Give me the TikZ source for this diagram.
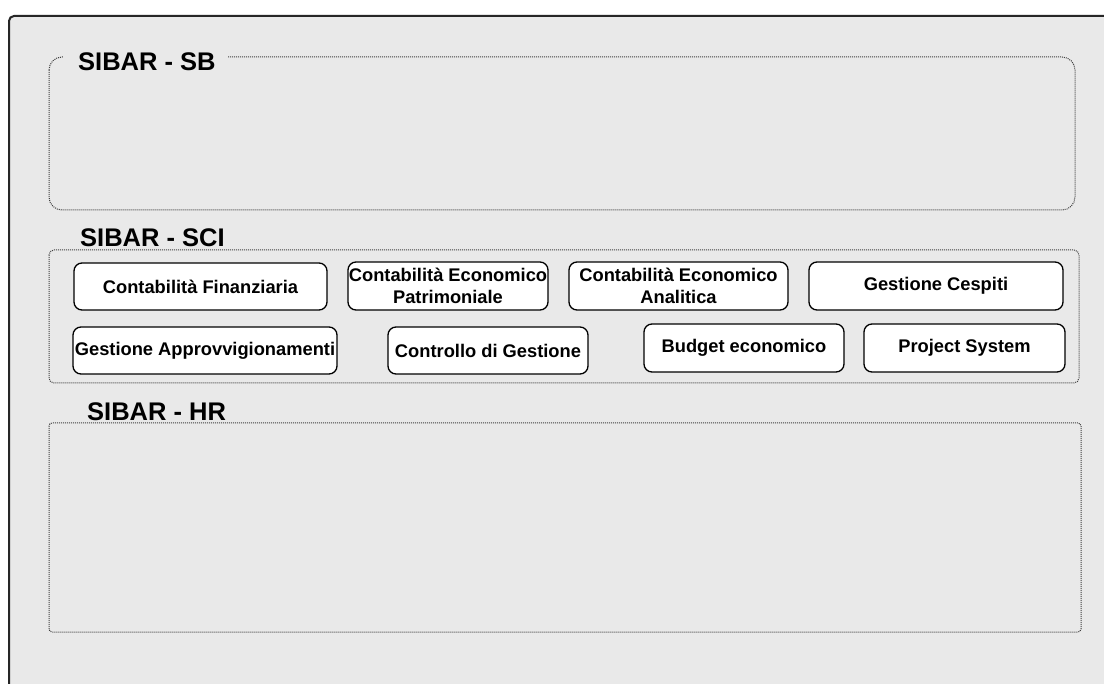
\documentclass[tikz,border=0pt]{standalone}
\usepackage{fontspec}
\setmainfont{Liberation Sans}
\definecolor{bg}{HTML}{E9E9E9}
\tikzset{
  grp/.style={draw=black!75, line width=1pt, dash pattern=on 1pt off 1pt},
  ttl/.style={fill=bg, inner ysep=1pt, inner xsep=0pt, font=\fontsize{25.5}{29}\selectfont\bfseries, anchor=base west},
  mod/.style={draw=black, fill=white, line width=1.3pt, rounded corners=8pt, inner sep=0pt,
    align=center, font=\fontsize{18.3}{21.5}\selectfont\bfseries},
}
\begin{document}
\begin{tikzpicture}[x=1pt,y=-1pt]
\useasboundingbox (0,0) rectangle (1104,684);
\clip (0,0) rectangle (1104,684);
\fill[white] (0,0) rectangle (1104,684);
\fill[bg, rounded corners=5pt] (9,16) rectangle (1130,710);
\draw[line width=2pt, rounded corners=5pt, black!85] (9,710) -- (9,16) -- (1130,16);
% groups
\draw[grp, rounded corners=13pt] (49,57) rectangle (1075,210);
\draw[grp, rounded corners=5pt] (49,250) rectangle (1079,383);
\draw[grp, rounded corners=3pt] (49,423) rectangle (1081,632);
\node[ttl] (tsb) at (63,71) {\kern15pt SIBAR - SB\kern12pt};
\node[ttl] (tsci) at (77,247) {\kern3pt SIBAR - SCI\kern5pt};
\node[ttl] (thr) at (83,421) {\kern4pt SIBAR - HR\kern4pt};
% modules
\node[mod, minimum width=253pt, minimum height=47pt] (cf) at (200.5,286.5) {Contabilità Finanziaria};
\node[mod, minimum width=200pt, minimum height=48pt] (cep) at (448,286) {Contabilità Economico\\Patrimoniale};
\node[mod, minimum width=219pt, minimum height=48pt] (cea) at (678.5,286) {Contabilità Economico\\Analitica};
\node[mod, minimum width=254pt, minimum height=48pt] (gc) at (936,286) {Gestione Cespiti};
\node[mod, minimum width=264pt, minimum height=47pt] (ga) at (205,350.5) {Gestione Approvvigionamenti};
\node[mod, minimum width=200pt, minimum height=47pt] (cg) at (488,350.5) {Controllo di Gestione};
\node[mod, minimum width=200pt, minimum height=48pt] (be) at (744,348) {Budget economico};
\node[mod, minimum width=201pt, minimum height=48pt] (ps) at (964.5,348) {Project System};
\end{tikzpicture}
\end{document}
